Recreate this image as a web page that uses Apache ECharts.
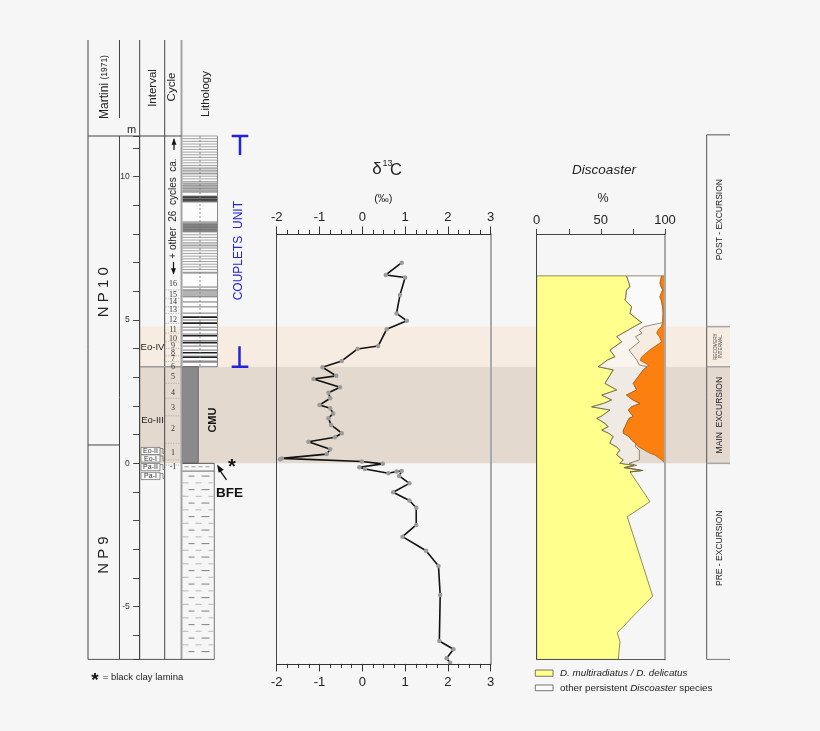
<!DOCTYPE html>
<html><head><meta charset="utf-8">
<script src="https://cdn.jsdelivr.net/npm/echarts@6/dist/echarts.min.js"></script>
<style>html,body{margin:0;padding:0;background:#f6f6f6;}#c{width:820px;height:731px;}</style>
</head><body><div id="c"></div>
<script>
// ---------------- DATA ----------------
// depth range (m)
const depthMin = -6.84, depthMax = 11.42;
// delta13C curve
const d13cDepth = [7.00,6.57,6.48,5.87,5.23,4.97,4.68,4.09,3.99,3.57,3.35,3.05,2.94,2.65,2.46,2.27,2.03,1.92,1.74,1.57,1.34,1.05,0.91,0.75,0.49,0.32,0.17,0.14,0.06,-0.02,-0.14,-0.20,-0.35,-0.29,-0.27,-0.44,-0.70,-1.01,-1.30,-1.55,-2.15,-2.56,-3.05,-3.58,-4.60,-6.20,-6.49,-6.80,-6.96];
const d13cValue = [0.92,0.55,1.00,0.88,0.80,1.04,0.57,0.37,-0.11,-0.48,-0.93,-0.61,-1.14,-0.52,-0.79,-0.75,-1.00,-0.75,-0.68,-0.79,-0.73,-0.48,-0.64,-1.26,-0.75,-0.83,-1.88,-1.92,-0.01,0.48,-0.07,0.06,0.61,0.80,0.92,0.86,1.10,0.72,1.10,1.26,1.26,0.94,1.49,1.78,1.82,1.80,2.13,1.97,2.05];
// Discoaster (cumulative %)
const discoDepth = [6.54,6.28,6.16,6.05,5.81,5.70,5.46,5.23,4.91,4.77,4.65,4.54,4.42,4.24,3.95,3.72,3.60,3.43,3.37,3.26,2.79,2.56,2.38,2.21,2.09,1.97,1.86,1.63,1.57,1.40,1.28,1.16,1.05,0.93,0.81,0.70,0.58,0.46,0.35,0.29,0.12,0.00,-0.07,-0.15,-0.25,-0.30,-1.34,-1.86,-4.63,-5.91,-6.22,-6.84];
const multiradiatusPct = [70,72,72.7,70,69.5,68.8,74,72.7,81.8,76,71.4,67,62.4,66.3,57.1,61.0,55,50,48,59.7,53.2,62.4,50.7,58.5,52,42.9,57.1,50,46.8,53,55.8,50.7,56,59.7,58,57.1,62,64.9,63,62.4,67.5,64.9,76,68,82,72.7,88.3,70.6,90.4,62.8,64.9,63.6];
const otherPct = [97.4,96.1,97,98.2,96.1,97,98.2,98.5,98.2,84,80,82,77,80,72,76,78,80,86,83.1,75.3,77.9,70,75,80.5,74,71.4,75.3,72,70.1,69,67.5,67.5,72,74,77,77,80,80,80,80,72,78,70,83,72.7,88.3,70.6,90.4,62.8,64.9,63.6];
const excursionPct = [97.4,96.1,97,98.2,96.1,97,98.2,98.5,98.2,97,94.5,93.5,95.5,97.4,88,82,80.5,87,86,83.1,75.3,77.9,70,75,80.5,74,71.4,75.3,72,70.1,69,67.5,67.5,72,74,77,79.2,84,88.3,92,97.4,100,100,100,100,100,100,100,100,100,100,100];
// intervals (bands)
const bandTop = [4.77, 3.37];
const bandBottom = [3.37, 0];
// right zone column
const zoneBounds = [11.46, 4.77, 3.37, 0, -6.84];
const zoneNames = ['POST - EXCURSION', 'MAIN  EXCURSION', 'PRE - EXCURSION'];
const zoneLabelDepth = [8.5, 1.68, -2.96];
// biozones
const bioNames = ['N P 1 0', 'N P 9'];
const bioDepth = [5.97, -3.2];
const bioBoundary = 0.64;
// intervals column
const intervalNames = ['Eo-IV', 'Eo-III'];
const intervalDepth = [4.06, 1.51];
const subIntervalNames = ['Eo-II', 'Eo-I', 'Pa-II', 'Pa-I'];
const subIntervalDepth = [0.43, 0.17, -0.13, -0.44];
// cycles
const cycleNames = ['16','15','14','13','12','11','10','9','8','7','6','5','4','3','2','1','-1'];
const cycleDepth = [6.25,5.87,5.62,5.35,5.00,4.65,4.34,4.09,3.84,3.63,3.37,3.00,2.44,1.95,1.19,0.35,-0.14];
const cycleBounds = [6.05,5.76,5.46,5.23,4.88,4.54,4.24,4.01,3.75,3.55,2.79,2.27,1.66,0.70,0.12,-0.06];
// lithology
const coupletUnit = [11.42, 3.37];
const cmuUnit = [3.37, 0];
const marlUnit = [0, -6.84];
const litThinZones = [[11.42,9.78],[9.78,9.43],[9.33,9.12],[8.38,8.07],[8.07,6.64]];
const litFills = [[10.35,10.06,'light'],[9.78,9.43,'gray'],[9.33,9.12,'dark'],[8.38,8.07,'mid'],[7.70,7.52,'light'],[6.05,5.81,'gray']];
const litLines = [[9.12,'bed'],[8.42,'bed'],[6.64,'bed'],[6.15,'bed'],[6.05,'bed'],[5.81,'bed'],[5.63,'bed'],[5.46,'bed'],[5.24,'bed'],[5.10,'dark'],[5.00,'bed'],[4.89,'dark'],[4.75,'bed'],[4.65,'bed'],[4.51,'bed'],[4.45,'dark'],[4.28,'bed'],[4.21,'dark'],[4.09,'bed'],[3.95,'bed'],[3.86,'dark'],[3.74,'bed'],[3.70,'dark'],[3.55,'thick'],[3.37,'bed']];
const otherCyclesText = '+ other  26  cycles  ca.';
const otherCyclesDepth = [11.32, 10.93, 8.89, 7.02, 6.60];

// ---------------- STYLE ----------------
const F = "'Liberation Sans', Arial, sans-serif";
const FS = "'Liberation Serif', 'Times New Roman', serif";
const fillKind = {light:'#d5d5d5', gray:'#b3b3b3', dark:'#3c3c3c', mid:'#7b7b7b'};
const lineKind = {bed:['#7a7a7a',1], dark:['#222',1.6], thick:['#8a8a8a',2.2]};
const bandColors = ['#f6ece1', '#e3d9ce'];

function txt(x, y, t, size, o) {
  o = o || {};
  const font = (o.style||'normal') + ' ' + (o.weight||'normal') + ' ' + size + 'px ' + (o.family||F);
  const a = o.align || 'center';
  return {type:'text', x:x, y:y, rotation:o.rot||0, z2:10,
    style:{text:t, fill:o.color||'#222', font:font, align:a, textAlign:a, verticalAlign:'middle', textVerticalAlign:'middle'}};
}

function renderBands(params, api) {
  const i = params.dataIndex, cs = params.coordSys;
  const y1 = api.coord([0, bandTop[i]])[1], y2 = api.coord([0, bandBottom[i]])[1];
  return {type:'rect', shape:{x:cs.x, y:y1, width:cs.width, height:y2-y1}, style:{fill:bandColors[i]}};
}

function renderZones(params, api) {
  const cs = params.coordSys;
  const Y = d => api.coord([0, d])[1];
  const x0 = cs.x, x1 = cs.x + cs.width;
  const ch = [];
  const L = (a,b,c,d,s,w) => ch.push({type:'line', shape:{x1:a,y1:b,x2:c,y2:d}, style:{stroke:s, lineWidth:w}});
  L(x0, Y(zoneBounds[0]), x0, Y(zoneBounds[4]), '#555', 1);
  L(x0, Y(zoneBounds[0]), x1, Y(zoneBounds[0]), '#555', 1);
  for (let k = 1; k < 4; k++) L(x0, Y(zoneBounds[k]), x1, Y(zoneBounds[k]), '#a5a5a5', 1.5);
  L(x0, Y(zoneBounds[4]), x1, Y(zoneBounds[4]), '#777', 1);
  for (let k = 0; k < zoneNames.length; k++) ch.push(txt(x0+12.5, Y(zoneLabelDepth[k]), zoneNames[k], 8.5, {rot:Math.PI/2}));
  ch.push(txt(x0+8.5, Y(4.07), 'RECOVERY', 4.8, {rot:Math.PI/2, color:'#444'}));
  ch.push(txt(x0+14, Y(4.07), 'INTERVAL', 4.8, {rot:Math.PI/2, color:'#444'}));
  return {type:'group', children:ch};
}

function renderStrat(params, api) {
  const Y = d => api.coord([0, d])[1];
  const X0=88, X1=119.5, X2=139.7, X3=164.7, X4=181.5, XL=217.5, XM=214.3, XC=198.3, XMID=200;
  const ch = [];
  const L = (a,b,c,d,s,w,dash) => ch.push({type:'line', shape:{x1:a,y1:b,x2:c,y2:d}, style:{stroke:s, lineWidth:w||1, lineDash:dash||null}});
  const R = (x,y,w,h,f,s,lw) => ch.push({type:'rect', shape:{x:x,y:y,width:w,height:h}, style:{fill:f, stroke:s||'none', lineWidth:lw||0}});
  const yTop = Y(depthMax), yBot = Y(depthMin);
  // couplets unit
  const cu0 = Y(coupletUnit[0]), cu1 = Y(coupletUnit[1]);
  R(X4+1, cu0, XL-X4-1, cu1-cu0, '#fbfbfb');
  litFills.forEach(f => R(X4+1, Y(f[0]), XL-X4-1, Y(f[1])-Y(f[0]), fillKind[f[2]]));
  litThinZones.forEach(z => { const a = Y(z[0]), b = Y(z[1]); for (let y = a; y <= b + 0.1; y += 2.68) L(X4+1, y, XL, y, '#8c8c8c', 0.8); });
  litLines.forEach(l => { const k = lineKind[l[1]]; L(X4+1, Y(l[0]), XL, Y(l[0]), k[0], k[1]); });
  L(XMID, cu0, XMID, cu1, '#777', 0.8, [2,2]);
  L(XL, cu0, XL, cu1, '#8a8a8a', 1);
  // CMU
  R(X4+1, Y(cmuUnit[0]), XC-X4-1, Y(cmuUnit[1])-Y(cmuUnit[0]), '#8a8a8a', '#5a5a5a', 0.8);
  // marl
  const m0 = Y(marlUnit[0]), m1 = Y(marlUnit[1]);
  L(X4, m0, XM, m0, '#555', 1);
  L(X4+3, Y(-0.12), XM-3, Y(-0.12), '#888', 0.8, [4,3]);
  L(X4, Y(-0.27), XM, Y(-0.27), '#666', 1);
  L(XM, m0, XM, m1, '#777', 1);
  let k = 0;
  for (let y = Y(-0.27) + 5; y < m1 - 2; y += 6.75, k++) {
    const segs = (k % 2 === 0) ? [[7,13],[20,28]] : [[1,7],[14,20],[27,32]];
    const col = (k % 2 === 0) ? '#8a8a8a' : '#bcbcbc';
    segs.forEach(s => L(X4 + s[0], y, X4 + s[1], y, col, 1.1));
  }
  // column frame
  [X0, X2, X3].forEach(x => L(x, 40, x, yBot, '#444', 1));
  L(X1, 40, X1, 118, '#444', 1);
  L(X1, yTop, X1, yBot, '#444', 1);
  L(X4, 40, X4, yBot, '#a3a3a3', 2);
  L(X0, yTop, X4, yTop, '#444', 1);
  L(X0, yBot, XM, yBot, '#555', 1);
  L(X0, Y(bioBoundary), X1, Y(bioBoundary), '#444', 1);
  L(X2, Y(3.37), X4, Y(3.37), '#9a9a9a', 1.5);
  // cycles
  cycleBounds.forEach(b => L(X3+1, Y(b), X4-1, Y(b), '#9a9a9a', 0.8, [1,1.5]));
  cycleNames.forEach((n, i) => ch.push(txt(173, Y(cycleDepth[i]), n, 8, {family:FS, color:'#333'})));
  ch.push(txt(173.5, Y(otherCyclesDepth[2]), otherCyclesText, 10, {rot:Math.PI/2}));
  // arrows
  const arrow = (x, yTip, yTail) => {
    L(x, yTail, x, yTip, '#111', 1.2);
    const dir = yTip < yTail ? 1 : -1;
    ch.push({type:'polygon', shape:{points:[[x, yTip], [x-2.5, yTip + dir*6], [x+2.5, yTip + dir*6]]}, style:{fill:'#111'}});
  };
  arrow(174, Y(otherCyclesDepth[0]), Y(otherCyclesDepth[1]));
  arrow(173.5, Y(otherCyclesDepth[4]), Y(otherCyclesDepth[3]));
  // intervals
  intervalNames.forEach((n, i) => ch.push(txt(152.5, Y(intervalDepth[i]), n, 9.5)));
  subIntervalNames.forEach((n, i) => {
    const y = Y(subIntervalDepth[i]);
    R(141, y-3.6, 19, 7.2, '#f8f8f8', '#666', 0.7);
    L(160, y-2.5, 163, y-2.5, '#666', 0.7); L(163, y-2.5, 163, y+2.5, '#666', 0.7); L(163, y+2.5, 165, y+2.5, '#666', 0.7);
    ch.push(txt(150.5, y+0.3, n, 7, {color:'#333'}));
  });
  // biozones
  bioNames.forEach((n, i) => ch.push(txt(104, Y(bioDepth[i]), n, 15, {rot:Math.PI/2, color:'#222'})));
  // CMU, star, BFE
  ch.push(txt(213, Y(1.51), 'CMU', 11, {rot:Math.PI/2, weight:'bold', color:'#111'}));
  ch.push(txt(232, Y(0) + 4, '*', 20, {weight:'bold', color:'#111'}));
  ch.push(txt(229.5, Y(-1.03), 'BFE', 13.5, {weight:'bold', color:'#111'}));
  const ax0 = 226.5, ay0 = Y(-0.58), ax1 = 217, ay1 = Y(-0.04);
  L(ax0, ay0, ax1 + 1.5, ay1 + 4, '#111', 1.3);
  const dx = ax1 - ax0, dy = ay1 - ay0, len = Math.hypot(dx, dy), ux = dx/len, uy = dy/len;
  ch.push({type:'polygon', shape:{points:[[ax1, ay1], [ax1 - ux*8 - uy*3, ay1 - uy*8 + ux*3], [ax1 - ux*8 + uy*3, ay1 - uy*8 - ux*3]]}, style:{fill:'#111'}});
  // couplets unit bracket
  const blue = '#2323d8';
  const bt = Y(coupletUnit[0]), bb = Y(coupletUnit[1]);
  L(231.7, bt, 248.3, bt, blue, 2.5); L(240, bt, 240, bt + 19, blue, 2.5);
  L(231.7, bb, 248.3, bb, blue, 2.5); L(239.5, bb, 239.5, bb - 20.5, blue, 2.5);
  ch.push(txt(239, Y(7.42), 'COUPLETS  UNIT', 12, {rot:Math.PI/2, color:blue}));
  return {type:'group', children:ch};
}

function renderDisco(params, api) {
  const P = (v, d) => api.coord([v, d]);
  const n = discoDepth.length;
  const ch = [];
  const yp = [P(0, discoDepth[0])];
  for (let i = 0; i < n; i++) yp.push(P(multiradiatusPct[i], discoDepth[i]));
  yp.push(P(0, discoDepth[n-1]));
  ch.push({type:'polygon', shape:{points:yp}, style:{fill:'#ffff8c', stroke:'#74743a', lineWidth:0.8}});
  const idx = [];
  for (let i = 0; i < n; i++) if (discoDepth[i] >= -0.3) idx.push(i);
  const op = [];
  idx.forEach(i => op.push(P(multiradiatusPct[i], discoDepth[i])));
  idx.slice().reverse().forEach(i => op.push(P(otherPct[i], discoDepth[i])));
  ch.push({type:'polygon', shape:{points:op}, style:{fill:'rgba(255,255,255,0.45)', stroke:'#6d5f3e', lineWidth:0.7}});
  const rp = [];
  for (let i = 0; i < n; i++) if (discoDepth[i] >= 0) rp.push(P(excursionPct[i], discoDepth[i]));
  rp.push(P(100, 0)); rp.push(P(100, discoDepth[0]));
  ch.push({type:'polygon', shape:{points:rp}, style:{fill:'#fb800f', stroke:'#9a4a05', lineWidth:0.6}});
  return {type:'group', children:ch};
}

const baseGrid = {containLabel:false, outerBoundsMode:'none', show:false};
const hiddenX = g => ({gridIndex:g, type:'value', min:0, max:1, show:false, axisLine:{onZero:false}});
const boxY = (g, pos, mn, mx, col, w) => ({gridIndex:g, type:'value', position:pos, min:mn, max:mx, z:10,
  axisLine:{show:true, onZero:false, lineStyle:{color:col, width:w}}, axisTick:{show:false}, axisLabel:{show:false}, splitLine:{show:false}});
const d13cX = (pos, margin) => ({gridIndex:2, type:'value', position:pos, min:-2, max:3, interval:1, z:10,
  axisLine:{show:true, onZero:false, lineStyle:{color:'#333', width:1}},
  axisTick:{show:true, length:7.5, lineStyle:{color:'#333'}},
  minorTick:{show:true, splitNumber:4, length:4, lineStyle:{color:'#333'}},
  axisLabel:{show:true, margin:margin, fontSize:13, color:'#222', fontFamily:F},
  splitLine:{show:false}, minorSplitLine:{show:false}});
const option = {
  backgroundColor:'#f6f6f6',
  animation:false,
  grid:[
    Object.assign({left:139.7, top:136, width:25, height:523.4}, baseGrid),
    Object.assign({left:140, top:136, width:590, height:523.4}, baseGrid),
    Object.assign({left:276.7, top:234, width:214, height:429.9}, baseGrid),
    Object.assign({left:536.7, top:234, width:128.3, height:425.4}, baseGrid),
    Object.assign({left:706.7, top:136, width:23.3, height:523.4}, baseGrid)
  ],
  xAxis:[
    hiddenX(0),
    hiddenX(1),
    d13cX('top', 10),
    d13cX('bottom', 12),
    {gridIndex:3, type:'value', position:'top', min:0, max:100, interval:25, z:10,
      axisLine:{show:true, onZero:false, lineStyle:{color:'#444', width:1}},
      axisTick:{show:true, length:5, lineStyle:{color:'#444'}},
      axisLabel:{show:true, margin:7, fontSize:13, color:'#222', fontFamily:F, formatter:v => (v % 50 === 0 ? String(v) : '')},
      splitLine:{show:false}},
    {gridIndex:3, type:'value', position:'bottom', min:0, max:100, interval:25, z:10,
      axisLine:{show:true, onZero:false, lineStyle:{color:'#555', width:1}},
      axisTick:{show:false}, axisLabel:{show:false}, splitLine:{show:false}},
    hiddenX(4)
  ],
  yAxis:[
    {gridIndex:0, type:'value', position:'left', min:depthMin, max:depthMax, minInterval:1, maxInterval:1, splitNumber:18, z:10,
      axisLine:{show:true, onZero:false, lineStyle:{color:'#444', width:1}},
      axisTick:{show:true, length:6.5, lineStyle:{color:'#444'}},
      axisLabel:{show:true, margin:10, fontSize:8.5, color:'#333', fontFamily:F,
        formatter:v => (Math.round(v) === v && v % 5 === 0) ? String(v) : ''},
      splitLine:{show:false}},
    {gridIndex:1, type:'value', min:depthMin, max:depthMax, show:false, axisLine:{onZero:false}},
    boxY(2, 'left', -7, 8, '#444', 1),
    boxY(2, 'right', -7, 8, '#a9a9a9', 2),
    boxY(3, 'left', depthMin, 8, '#444', 1),
    boxY(3, 'right', depthMin, 8, '#a9a9a9', 2),
    {gridIndex:4, type:'value', min:depthMin, max:depthMax, show:false, axisLine:{onZero:false}}
  ],
  series:[
    {type:'custom', xAxisIndex:1, yAxisIndex:1, z:1, silent:true, data:bandTop.map(() => [0.5, 0]), renderItem:renderBands},
    {type:'custom', xAxisIndex:6, yAxisIndex:6, z:5, silent:true, data:[[0.5, 0]], renderItem:renderZones},
    {type:'custom', xAxisIndex:4, yAxisIndex:4, z:4, silent:true, data:[[50, 0]], renderItem:renderDisco},
    {type:'custom', xAxisIndex:0, yAxisIndex:0, z:5, silent:true, data:[[0.5, 0]], renderItem:renderStrat},
    {type:'line', xAxisIndex:2, yAxisIndex:2, z:6, silent:true,
      data:d13cDepth.map((d, i) => [d13cValue[i], d]),
      symbol:'circle', symbolSize:4.5, showSymbol:true, showAllSymbol:true,
      itemStyle:{color:'#9b9b9b'}, lineStyle:{color:'#111', width:1.6}}
  ],
  graphic:{elements:[
    {type:'text', x:105, y:87, rotation:Math.PI/2, z:100, style:{text:'{a|Martini} {b|(1971)}', rich:{a:{fontSize:12, fontFamily:F, fill:'#222'}, b:{fontSize:8.5, fontFamily:F, fill:'#222'}}, align:'center', textAlign:'center', verticalAlign:'middle', textVerticalAlign:'middle'}},
    Object.assign(txt(153, 88, 'Interval', 11.5, {rot:Math.PI/2}), {z:100}),
    Object.assign(txt(172, 87, 'Cycle', 11.5, {rot:Math.PI/2}), {z:100}),
    Object.assign(txt(205.5, 94, 'Lithology', 11.5, {rot:Math.PI/2}), {z:100}),
    Object.assign(txt(131.5, 130, 'm', 11), {z:100}),
    Object.assign(txt(377, 169.5, 'δ', 17), {z:100}),
    Object.assign(txt(387.5, 164, '13', 9), {z:100}),
    Object.assign(txt(396, 170, 'C', 16.5), {z:100}),
    Object.assign(txt(383.3, 198.5, '(‰)', 11), {z:100}),
    Object.assign(txt(604, 170.7, 'Discoaster', 13.5, {style:'italic'}), {z:100}),
    Object.assign(txt(603, 198.5, '%', 12.5), {z:100}),
    Object.assign(txt(95, 681, '*', 19, {weight:'bold', color:'#111'}), {z:100}),
    Object.assign(txt(102.7, 677, '= black clay lamina', 9.5, {align:'left', color:'#222'}), {z:100}),
    {type:'rect', z:100, shape:{x:535.3, y:670, width:17.7, height:6.3}, style:{fill:'#ffff8c', stroke:'#555', lineWidth:0.8}},
    Object.assign(txt(560, 673.3, 'D. multiradiatus / D. delicatus', 9.8, {align:'left', style:'italic', color:'#222'}), {z:100}),
    {type:'rect', z:100, shape:{x:535.3, y:685, width:17.7, height:5.7}, style:{fill:'#fafafa', stroke:'#555', lineWidth:0.8}},
    {type:'text', x:560, y:688, z:100, style:{text:'other persistent {i|Discoaster} species', font:'9.8px ' + F, fill:'#222', rich:{i:{fontStyle:'italic', fontSize:9.8, fontFamily:F, fill:'#222'}}, align:'left', textAlign:'left', verticalAlign:'middle', textVerticalAlign:'middle'}}
  ]}
};
const chart = echarts.init(document.getElementById('c'), null, {renderer:'canvas'});
chart.setOption(option);
</script>
</body></html>
